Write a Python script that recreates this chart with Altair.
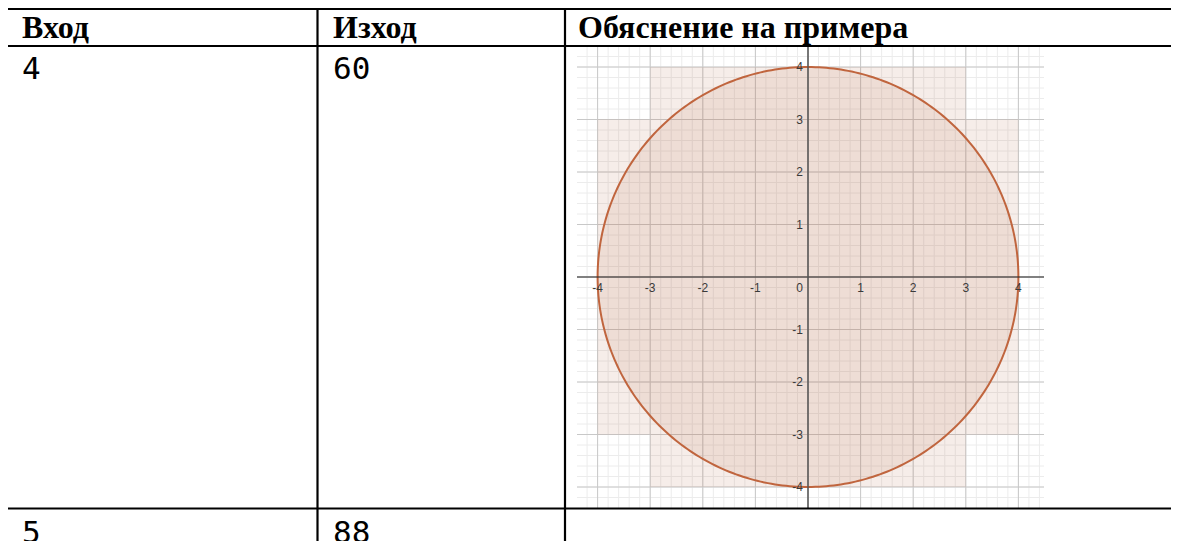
import altair as alt
import numpy as np
import pandas as pd

# ---------------- data ----------------
headers = ["Вход", "Изход", "Обяснение на примера"]
inputs = ["4", "5"]
outputs = ["60", "88"]

radius = 4
tick_values = [-4, -3, -2, -1, 1, 2, 3, 4]
# unit squares touched by the circle, row by row
row_bottom = [3, 2, 1, 0, -1, -2, -3, -4]
row_left = [-3, -4, -4, -4, -4, -4, -4, -3]
row_right = [3, 4, 4, 4, 4, 4, 4, 3]

# ---------------- layout (page pixels -> graph units) ----------------
W, H = 1163, 533
OX, OY = 808.0, 277.0       # page position of graph origin
UX, UY = 52.6, 52.5         # pixels per graph unit


def gx(px):
    return (px - OX) / UX


def gy(py):
    return (OY - py) / UY


XS = alt.Scale(domain=[gx(8), gx(8 + W)], nice=False, zero=False)
YS = alt.Scale(domain=[gy(8 + H), gy(8)], nice=False, zero=False)

GX0, GX1 = gx(577), gx(1044)
GY0, GY1 = gy(508), gy(47)


def X(f, **kw):
    return alt.X(f, scale=XS, axis=None, **kw)


def Y(f, **kw):
    return alt.Y(f, scale=YS, axis=None, **kw)


# ---------------- grid ----------------
minor = [round(v, 1) for v in np.arange(-4.2, 4.45, 0.2)]
minor_x = pd.DataFrame({"v": [v for v in minor if GX0 < v < GX1]})
minor_y = pd.DataFrame({"v": [v for v in minor if GY0 < v < GY1]})
major = pd.DataFrame({"v": [-4, -3, -2, -1, 0, 1, 2, 3, 4]})

grid_minor_v = alt.Chart(minor_x).mark_rule(color="#ececec", strokeWidth=1).encode(
    x=X("v:Q"), y=Y("a:Q"), y2=alt.Y2("b:Q")
).transform_calculate(a=str(GY0), b=str(GY1))
grid_minor_h = alt.Chart(minor_y).mark_rule(color="#ececec", strokeWidth=1).encode(
    y=Y("v:Q"), x=X("a:Q"), x2=alt.X2("b:Q")
).transform_calculate(a=str(GX0), b=str(GX1))
grid_major_v = alt.Chart(major).mark_rule(color="#c8c8c8", strokeWidth=1).encode(
    x=X("v:Q"), y=Y("a:Q"), y2=alt.Y2("b:Q")
).transform_calculate(a=str(GY0), b=str(GY1))
grid_major_h = alt.Chart(major).mark_rule(color="#c8c8c8", strokeWidth=1).encode(
    y=Y("v:Q"), x=X("a:Q"), x2=alt.X2("b:Q")
).transform_calculate(a=str(GX0), b=str(GX1))

# ---------------- squares ----------------
rows = pd.DataFrame({"yb": row_bottom, "xl": row_left, "xr": row_right})
squares = alt.Chart(rows).mark_rect(color="#b86a48", opacity=0.12).encode(
    x=X("xl:Q"), x2=alt.X2("xr:Q"), y=Y("yb:Q"), y2=alt.Y2("yt:Q")
).transform_calculate(yt="datum.yb + 1")

# ---------------- circle ----------------
circ_fill = alt.Chart(alt.sequence(0, 181, 1, as_="deg")).transform_calculate(
    cx=f"{radius}*cos(datum.deg*PI/180)",
    cy=f"{radius}*sin(datum.deg*PI/180)",
    cy2=f"-{radius}*sin(datum.deg*PI/180)",
).mark_area(color="#b86a48", opacity=0.12).encode(
    x=X("cx:Q"), y=Y("cy:Q"), y2=alt.Y2("cy2:Q")
)
circ_line = alt.Chart(alt.sequence(0, 361, 1, as_="deg")).transform_calculate(
    cx=f"{radius}*cos(datum.deg*PI/180)",
    cy=f"{radius}*sin(datum.deg*PI/180)",
).mark_line(color="#c0653e", strokeWidth=2).encode(
    x=X("cx:Q"), y=Y("cy:Q"), order=alt.Order("deg:Q")
)

# ---------------- axes ----------------
axes_df = pd.DataFrame({"k": ["x"]})
x_axis = alt.Chart(axes_df).mark_rule(color="#222222", strokeWidth=1.2).encode(
    x=X("a:Q"), x2=alt.X2("b:Q"), y=Y("z:Q")
).transform_calculate(a=str(GX0), b=str(GX1), z="0")
y_axis = alt.Chart(axes_df).mark_rule(color="#555555", strokeWidth=1.5).encode(
    y=Y("a:Q"), y2=alt.Y2("b:Q"), x=X("z:Q")
).transform_calculate(a=str(GY0), b=str(GY1), z="0")

ticks = pd.DataFrame({"t": tick_values, "lab": [str(v) for v in tick_values]})
lab_style = dict(font="Liberation Sans", fontSize=12, color="#3a3a3a", baseline="middle")
x_labels = alt.Chart(ticks).mark_text(align="center", **lab_style).encode(
    x=X("t:Q"), y=Y("p:Q"), text="lab:N"
).transform_calculate(p=str(gy(288)))
y_labels = alt.Chart(ticks).mark_text(align="right", **lab_style).encode(
    y=Y("t:Q"), x=X("p:Q"), text="lab:N"
).transform_calculate(p=str(gx(803)))
zero_label = alt.Chart(pd.DataFrame({"lab": ["0"]})).mark_text(align="right", **lab_style).encode(
    x=X("p:Q"), y=Y("q:Q"), text="lab:N"
).transform_calculate(p=str(gx(803)), q=str(gy(288)))

# ---------------- table ----------------
col_px = [22, 333, 578]
hl = pd.DataFrame({"y": [gy(p) for p in [8.8, 46, 508.5]]})
vl = pd.DataFrame({"x": [gx(p) for p in [6.5, 317.5, 565]]})
h_lines = alt.Chart(hl).mark_rule(color="#000000", strokeWidth=2.2).encode(
    y=Y("y:Q"), x=X("a:Q"), x2=alt.X2("b:Q")
).transform_calculate(a=str(gx(5.4)), b=str(gx(8 + W)))
v_lines = alt.Chart(vl).mark_rule(color="#000000", strokeWidth=2.2).encode(
    x=X("x:Q"), y=Y("a:Q"), y2=alt.Y2("b:Q")
).transform_calculate(a=str(gy(8 + H)), b=str(gy(7.7)))

head_df = pd.DataFrame({"x": [gx(p) for p in col_px], "y": [gy(38)] * 3, "t": headers})
head_text = alt.Chart(head_df).mark_text(
    font="Liberation Serif", fontWeight="bold", fontSize=32, color="#000000",
    align="left", baseline="alphabetic"
).encode(x=X("x:Q"), y=Y("y:Q"), text="t:N")

body_df = pd.DataFrame({
    "x": [gx(col_px[0]), gx(col_px[1]), gx(col_px[0]), gx(col_px[1])],
    "y": [gy(79), gy(79), gy(543), gy(543)],
    "t": [inputs[0], outputs[0], inputs[1], outputs[1]],
})
body_text = alt.Chart(body_df).mark_text(
    font="DejaVu Sans Mono", fontSize=31, color="#000000",
    align="left", baseline="alphabetic"
).encode(x=X("x:Q"), y=Y("y:Q"), text="t:N")

chart = alt.layer(
    grid_minor_v, grid_minor_h, grid_major_v, grid_major_h,
    squares, circ_fill, circ_line, x_axis, y_axis,
    x_labels, y_labels, zero_label,
    h_lines, v_lines, head_text, body_text,
).properties(
    width=W, height=H, padding=0, background="#ffffff",
    autosize=alt.AutoSizeParams(type="none"),
).configure_view(stroke=None)

chart.save("out.html", embed_options={"renderer": "svg", "actions": False})
